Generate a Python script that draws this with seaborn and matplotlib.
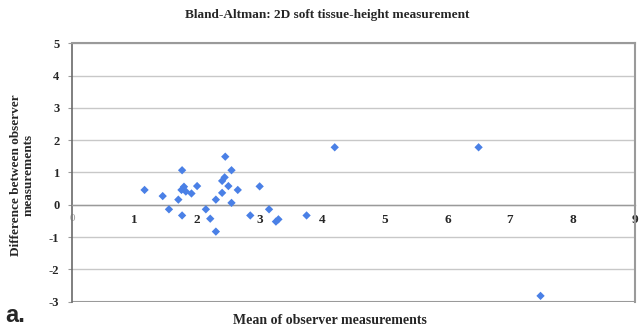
import matplotlib
matplotlib.use("Agg")
import matplotlib.pyplot as plt
import seaborn as sns
import pandas as pd

# Data
mean_vals = [1.16, 1.45, 1.55, 1.70, 1.76, 1.76, 1.75, 1.79, 1.82, 1.91, 2.00,
             2.14, 2.21, 2.30, 2.30, 2.40, 2.40, 2.44, 2.45, 2.50, 2.55, 2.55,
             2.65, 2.85, 3.00, 3.15, 3.26, 3.30, 3.75, 4.20, 6.50, 7.49]
diff_vals = [0.46, 0.27, -0.14, 0.16, 1.07, -0.33, 0.46, 0.56, 0.41, 0.35, 0.58,
             -0.14, -0.43, 0.16, -0.83, 0.37, 0.74, 0.85, 1.49, 0.58, 1.07, 0.06,
             0.46, -0.33, 0.57, -0.14, -0.52, -0.45, -0.33, 1.78, 1.78, -2.82]
x_ticks = [0, 1, 2, 3, 4, 5, 6, 7, 8, 9]
y_ticks = [-3, -2, -1, 0, 1, 2, 3, 4, 5]

title = "Bland-Altman: 2D soft tissue-height measurement"
xlabel = "Mean of observer measurements"
ylabel = "Difference between observer\nmeasurements"

df = pd.DataFrame({"mean": mean_vals, "diff": diff_vals})

sns.set_theme(style="white")
plt.rcParams["font.family"] = ["Liberation Serif", "DejaVu Serif"]
plt.rcParams["axes.unicode_minus"] = False

fig = plt.figure(figsize=(6.44, 3.29), dpi=100)
ax = fig.add_axes([0.1118, 0.083, 0.8742, 0.7854])

sns.scatterplot(data=df, x="mean", y="diff", marker="D", s=18, color="#4a80e6",
                edgecolor="none", ax=ax, zorder=3)

ax.set_xlim(0, 9)
ax.set_ylim(-3, 5)
ax.set_yticks(y_ticks)
ax.set_xticks(x_ticks)
ax.set_xticklabels([str(t) for t in x_ticks])

ax.yaxis.grid(True, color="#c8c8c8", linewidth=1.0)
ax.xaxis.grid(False)
ax.set_axisbelow(True)

for s in ["top", "right"]:
    ax.spines[s].set_color("#9a9a9a")
    ax.spines[s].set_linewidth(1.5)
ax.spines["left"].set_color("#6a6a6a")
ax.spines["left"].set_linewidth(1.2)
ax.spines["bottom"].set_position(("data", 0))
ax.spines["bottom"].set_color("#9a9a9a")
ax.spines["bottom"].set_linewidth(1.0)
ax.axhline(-3, color="#9a9a9a", linewidth=1.5, zorder=1)

ax.tick_params(axis="x", direction="inout", length=5, width=0.8, color="#9a9a9a",
               labelsize=9.5, pad=4)
ax.tick_params(axis="y", direction="out", length=3, width=0.8, color="#9a9a9a",
               labelsize=9, pad=6, left=True)
for lbl in ax.get_xticklabels():
    lbl.set_fontweight("bold")
for lbl in ax.get_yticklabels():
    lbl.set_fontweight("bold")
xl = ax.get_xticklabels()
xl[0].set_fontweight("normal")
xl[0].set_color("#a0a0a0")
xl[0].set_fontsize(8)

ax.set_xlabel("")
ax.set_ylabel("")
fig.text(0.508, 0.955, title, ha="center", va="center", fontsize=9.5, fontweight="bold")
fig.text(0.512, 0.027, xlabel, ha="center", va="center", fontsize=10, fontweight="bold")
fig.text(0.034, 0.467, ylabel, ha="center", va="center", rotation=90, fontsize=9.5,
         fontweight="bold", linespacing=1.05)
fig.text(0.008, 0.04, "a.", ha="left", va="center", fontsize=17, fontweight="bold",
         family=["Liberation Sans", "DejaVu Sans"])

fig.savefig("out.png", dpi=100)
